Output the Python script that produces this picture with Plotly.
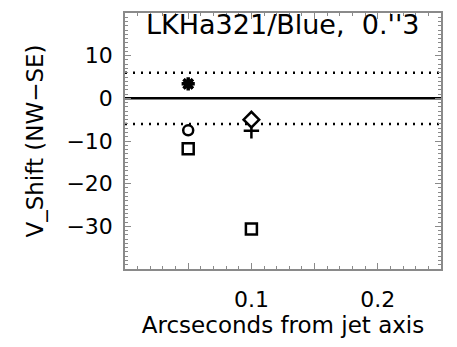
import plotly.graph_objects as go

# Data
asterisk_x = [0.05]
asterisk_y = [3.4]
circle_x = [0.05]
circle_y = [-7.5]
square_x = [0.05, 0.10]
square_y = [-11.8, -30.6]
diamond_x = [0.10]
diamond_y = [-5.0]
plus_x = [0.10]
plus_y = [-7.6]

ref_zero = 0
ref_band = [6, -6]

x_range = [0.0, 0.25]
y_range = [-40, 20]
x_tickvals = [0.0, 0.05, 0.10, 0.15, 0.20, 0.25]
x_ticktext = ["", "", "0.1", "", "0.2", ""]
y_tickvals = [-40, -30, -20, -10, 0, 10, 20]
y_ticktext = ["", "\u221230", "\u221220", "\u221210", "0", "10", ""]

title_text = "LKHa321/Blue,  0.''3"
x_title = "Arcseconds from jet axis"
y_title = "V_Shift (NW\u2212SE)"

FONT = "DejaVu Sans"
fig = go.Figure()

# reference lines
fig.add_trace(go.Scatter(x=x_range, y=[ref_zero, ref_zero], mode="lines",
                         line=dict(color="black", width=2.5), hoverinfo="skip"))
for v in ref_band:
    fig.add_trace(go.Scatter(x=x_range, y=[v, v], mode="lines",
                             line=dict(color="black", width=2.5, dash="2px,6px"),
                             hoverinfo="skip"))


def mk(symbol, size, width):
    return dict(symbol=symbol, size=size, color="black",
                line=dict(color="black", width=width))


fig.add_trace(go.Scatter(x=asterisk_x, y=asterisk_y, mode="markers",
                         marker=mk("asterisk-open", 11, 3.5)))
fig.add_trace(go.Scatter(x=asterisk_x, y=asterisk_y, mode="markers",
                         marker=mk("x-thin-open", 9, 3)))
fig.add_trace(go.Scatter(x=circle_x, y=circle_y, mode="markers",
                         marker=mk("circle-open", 10, 2.5)))
fig.add_trace(go.Scatter(x=square_x, y=square_y, mode="markers",
                         marker=mk("square-open", 11, 2.5)))
fig.add_trace(go.Scatter(x=plus_x, y=plus_y, mode="markers",
                         marker=mk("cross-thin-open", 11, 2.5)))
fig.add_trace(go.Scatter(x=diamond_x, y=diamond_y, mode="markers",
                         marker=dict(symbol="diamond", size=12, color="white",
                                     line=dict(color="black", width=2.5))))

axis_common = dict(showgrid=False, zeroline=False, showline=True, linecolor="#8a8a8a",
                   linewidth=1.5, mirror="ticks", ticks="inside", tickcolor="#8a8a8a",
                   tickwidth=1, ticklen=6,
                   tickfont=dict(family=FONT, size=22, color="black"))

fig.update_layout(
    width=457, height=347,
    margin=dict(l=125, r=16, t=13, b=78),
    paper_bgcolor="white", plot_bgcolor="white",
    showlegend=False,
    font=dict(family=FONT, color="black"),
    xaxis=dict(range=x_range, tickmode="array", tickvals=x_tickvals, ticktext=x_ticktext,
               minor=dict(dtick=0.01, ticks="inside", ticklen=3, tickcolor="#8a8a8a", tickwidth=1),
               ticklabelstandoff=10,
               title=dict(text=x_title, font=dict(family=FONT, size=23), standoff=0),
               **axis_common),
    yaxis=dict(range=y_range, tickmode="array", tickvals=y_tickvals, ticktext=y_ticktext,
               minor=dict(dtick=1, ticks="inside", ticklen=3, tickcolor="#8a8a8a", tickwidth=1),
               ticklabelstandoff=6,
               title=dict(text=y_title, font=dict(family=FONT, size=23), standoff=16),
               **axis_common),
    annotations=[dict(text=title_text, xref="paper", yref="paper", x=0.5, y=1.025,
                      xanchor="center", yanchor="top", showarrow=False,
                      font=dict(family=FONT, size=27, color="black"))],
)

fig.write_html("out.html")
